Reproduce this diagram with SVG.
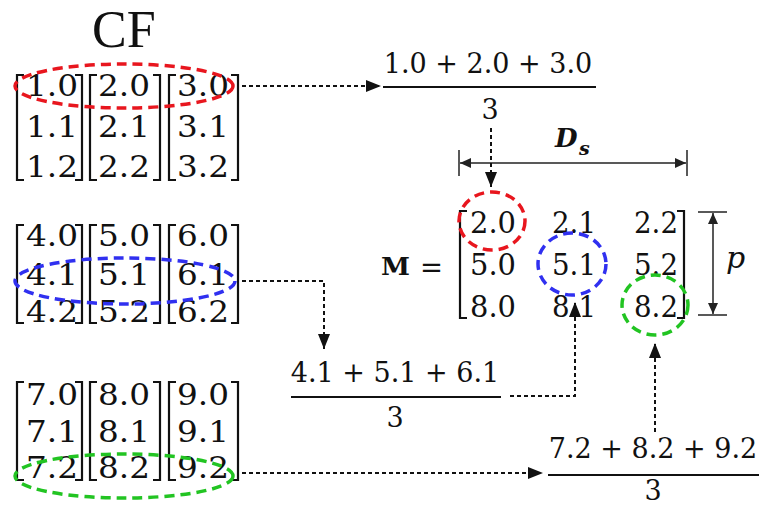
<svg xmlns="http://www.w3.org/2000/svg" width="762" height="508" viewBox="0 0 762 508">
<style>
.num{font-family:"DejaVu Serif","Liberation Serif",serif;font-size:29px;fill:#111}
.fr{font-family:"DejaVu Serif","Liberation Serif",serif;font-size:27px;fill:#111}
.br{fill:none;stroke:#111;stroke-width:2.2}
.dot{fill:none;stroke:#111;stroke-width:2;stroke-dasharray:4 3}
.dim{fill:none;stroke:#222;stroke-width:1.5}
.red{fill:none;stroke:#e8161e;stroke-width:3.5;stroke-dasharray:10 6}
.blue{fill:none;stroke:#3030f0;stroke-width:3.5;stroke-dasharray:10 6}
.green{fill:none;stroke:#22c422;stroke-width:3.5;stroke-dasharray:10 6}
</style>
<defs>
<marker id="ah" markerUnits="userSpaceOnUse" markerWidth="16" markerHeight="12" refX="15" refY="6" orient="auto"><path d="M0,0 L15,6 L0,12 Z" fill="#111"/></marker>
<marker id="sh" markerUnits="userSpaceOnUse" markerWidth="12" markerHeight="10" refX="11" refY="5" orient="auto-start-reverse"><path d="M0,0 L11,5 L0,10 Z" fill="#222"/></marker>
</defs>
<rect width="762" height="508" fill="#fff"/>

<g id="cf-title"><text x="92" y="47" font-family="Liberation Serif,serif" font-size="52" fill="#111">CF</text></g>

<g id="group1">
<path class="br" d="M24,75 H17 V180 H24 M75,75 H82 V180 H75"/>
<path class="br" d="M97,75 H90 V180 H97 M153,75 H160 V180 H153"/>
<path class="br" d="M176,75 H169 V180 H176 M231,75 H238 V180 H231"/>
<text class="num" x="26" y="96" textLength="52" lengthAdjust="spacingAndGlyphs">1.0</text>
<text class="num" x="26" y="137" textLength="52" lengthAdjust="spacingAndGlyphs">1.1</text>
<text class="num" x="26" y="177" textLength="52" lengthAdjust="spacingAndGlyphs">1.2</text>
<text class="num" x="98" y="96" textLength="52" lengthAdjust="spacingAndGlyphs">2.0</text>
<text class="num" x="98" y="137" textLength="52" lengthAdjust="spacingAndGlyphs">2.1</text>
<text class="num" x="98" y="177" textLength="52" lengthAdjust="spacingAndGlyphs">2.2</text>
<text class="num" x="177" y="96" textLength="52" lengthAdjust="spacingAndGlyphs">3.0</text>
<text class="num" x="177" y="137" textLength="52" lengthAdjust="spacingAndGlyphs">3.1</text>
<text class="num" x="177" y="177" textLength="52" lengthAdjust="spacingAndGlyphs">3.2</text>
<ellipse class="red" cx="124" cy="86" rx="109" ry="22"/>
</g>

<g id="group2">
<path class="br" d="M24,225 H17 V323 H24 M75,225 H82 V323 H75"/>
<path class="br" d="M97,225 H90 V323 H97 M153,225 H160 V323 H153"/>
<path class="br" d="M176,225 H169 V323 H176 M231,225 H238 V323 H231"/>
<text class="num" x="26" y="246" textLength="52" lengthAdjust="spacingAndGlyphs">4.0</text>
<text class="num" x="26" y="285" textLength="52" lengthAdjust="spacingAndGlyphs">4.1</text>
<text class="num" x="26" y="322" textLength="52" lengthAdjust="spacingAndGlyphs">4.2</text>
<text class="num" x="98" y="246" textLength="52" lengthAdjust="spacingAndGlyphs">5.0</text>
<text class="num" x="98" y="285" textLength="52" lengthAdjust="spacingAndGlyphs">5.1</text>
<text class="num" x="98" y="322" textLength="52" lengthAdjust="spacingAndGlyphs">5.2</text>
<text class="num" x="177" y="246" textLength="52" lengthAdjust="spacingAndGlyphs">6.0</text>
<text class="num" x="177" y="285" textLength="52" lengthAdjust="spacingAndGlyphs">6.1</text>
<text class="num" x="177" y="322" textLength="52" lengthAdjust="spacingAndGlyphs">6.2</text>
<ellipse class="blue" cx="125" cy="281" rx="110" ry="23"/>
</g>

<g id="group3">
<path class="br" d="M24,382 H17 V480 H24 M75,382 H82 V480 H75"/>
<path class="br" d="M97,382 H90 V480 H97 M153,382 H160 V480 H153"/>
<path class="br" d="M176,382 H169 V480 H176 M231,382 H238 V480 H231"/>
<text class="num" x="26" y="405" textLength="52" lengthAdjust="spacingAndGlyphs">7.0</text>
<text class="num" x="26" y="442" textLength="52" lengthAdjust="spacingAndGlyphs">7.1</text>
<text class="num" x="26" y="478" textLength="52" lengthAdjust="spacingAndGlyphs">7.2</text>
<text class="num" x="98" y="405" textLength="52" lengthAdjust="spacingAndGlyphs">8.0</text>
<text class="num" x="98" y="442" textLength="52" lengthAdjust="spacingAndGlyphs">8.1</text>
<text class="num" x="98" y="478" textLength="52" lengthAdjust="spacingAndGlyphs">8.2</text>
<text class="num" x="177" y="405" textLength="52" lengthAdjust="spacingAndGlyphs">9.0</text>
<text class="num" x="177" y="442" textLength="52" lengthAdjust="spacingAndGlyphs">9.1</text>
<text class="num" x="177" y="478" textLength="52" lengthAdjust="spacingAndGlyphs">9.2</text>
<ellipse class="green" cx="124" cy="476" rx="109" ry="22"/>
</g>

<g id="frac1">
<text class="fr" x="488" y="73" text-anchor="middle">1.0 + 2.0 + 3.0</text>
<line x1="383" y1="87" x2="596" y2="87" stroke="#111" stroke-width="2"/>
<text class="fr" x="490" y="119" text-anchor="middle">3</text>
</g>

<g id="frac2">
<text class="fr" x="395" y="382" text-anchor="middle">4.1 + 5.1 + 6.1</text>
<line x1="291" y1="397" x2="501" y2="397" stroke="#111" stroke-width="2"/>
<text class="fr" x="395" y="427" text-anchor="middle">3</text>
</g>

<g id="frac3">
<text class="fr" x="653" y="458" text-anchor="middle">7.2 + 8.2 + 9.2</text>
<line x1="548" y1="475" x2="759" y2="475" stroke="#111" stroke-width="2"/>
<text class="fr" x="653" y="500" text-anchor="middle">3</text>
</g>

<g id="matrix-M">
<text x="381" y="275" font-family="DejaVu Serif,serif" font-weight="bold" font-size="24" fill="#111" textLength="29" lengthAdjust="spacingAndGlyphs">M</text>
<text x="420" y="277" font-family="DejaVu Serif,serif" font-size="30" fill="#111" textLength="23" lengthAdjust="spacingAndGlyphs">=</text>
<path class="br" d="M467,211 H460 V318 H467 M677,211 H684 V318 H677"/>
<text class="num" x="470" y="233" textLength="46" lengthAdjust="spacingAndGlyphs">2.0</text>
<text class="num" x="552" y="233" textLength="44" lengthAdjust="spacingAndGlyphs">2.1</text>
<text class="num" x="634" y="233" textLength="44" lengthAdjust="spacingAndGlyphs">2.2</text>
<text class="num" x="470" y="275" textLength="46" lengthAdjust="spacingAndGlyphs">5.0</text>
<text class="num" x="552" y="275" textLength="44" lengthAdjust="spacingAndGlyphs">5.1</text>
<text class="num" x="634" y="275" textLength="44" lengthAdjust="spacingAndGlyphs">5.2</text>
<text class="num" x="470" y="317" textLength="46" lengthAdjust="spacingAndGlyphs">8.0</text>
<text class="num" x="552" y="317" textLength="44" lengthAdjust="spacingAndGlyphs">8.1</text>
<text class="num" x="634" y="317" textLength="44" lengthAdjust="spacingAndGlyphs">8.2</text>
<ellipse class="red" cx="492" cy="221" rx="33" ry="29"/>
<ellipse class="blue" cx="572" cy="264" rx="34" ry="31"/>
<ellipse class="green" cx="655" cy="305" rx="33" ry="30"/>
</g>

<g id="dim-Ds">
<line class="dim" x1="459" y1="150" x2="459" y2="176"/>
<line class="dim" x1="687" y1="150" x2="687" y2="176"/>
<line class="dim" x1="460" y1="163" x2="686" y2="163" marker-start="url(#sh)" marker-end="url(#sh)"/>
<text x="555" y="147" font-family="DejaVu Serif,serif" font-weight="bold" font-style="italic" font-size="26" fill="#111">D</text>
<text x="579" y="155" font-family="DejaVu Serif,serif" font-weight="bold" font-style="italic" font-size="19" fill="#111">s</text>
</g>

<g id="dim-p">
<line class="dim" x1="698" y1="212" x2="727" y2="212"/>
<line class="dim" x1="698" y1="315" x2="727" y2="315"/>
<line class="dim" x1="713" y1="213" x2="713" y2="314" marker-start="url(#sh)" marker-end="url(#sh)"/>
<text x="726" y="268" font-family="DejaVu Serif,serif" font-style="italic" font-size="30" fill="#111">p</text>
</g>

<g id="connectors">
<path class="dot" d="M242,86 H381" marker-end="url(#ah)"/>
<path class="dot" d="M491,128 V187" marker-end="url(#ah)"/>
<path class="dot" d="M242,281 H324 V349" marker-end="url(#ah)"/>
<path class="dot" d="M510,396 H575 V302" marker-end="url(#ah)"/>
<path class="dot" d="M242,473 H543" marker-end="url(#ah)"/>
<path class="dot" d="M655,432 V343" marker-end="url(#ah)"/>
</g>
</svg>
